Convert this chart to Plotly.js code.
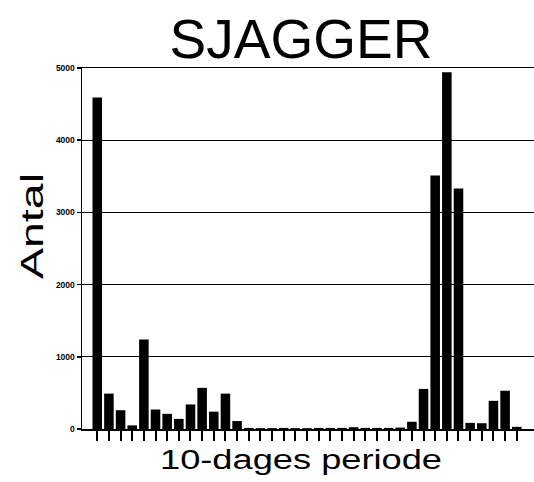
<!DOCTYPE html>
<html>
<head>
<meta charset="utf-8">
<script src="https://cdn.plot.ly/plotly-3.0.1.min.js"></script>
<style>
  html, body { margin: 0; padding: 0; background: #fff; }
  #chart { width: 534px; height: 482px; }
</style>
</head>
<body>
<div id="chart"></div>
<script>
// 10-day periods (categories)
const periods = [1,2,3,4,5,6,7,8,9,10,11,12,13,14,15,16,17,18,19,20,21,22,23,24,25,26,27,28,29,30,31,32,33,34,35,36,37];
// Antal per period
const counts = [4590, 490, 260, 50, 1240, 270, 210, 140, 340, 570, 240, 490, 110,
                15, 12, 12, 15, 12, 12, 15, 15, 15, 25, 15, 15, 15, 20,
                100, 555, 3510, 4940, 3330, 85, 80, 390, 530, 30];
const yTickVals = [0, 1000, 2000, 3000, 4000, 5000];
const yTickText = ["0", "1000", "2000", "3000", "4000", "5000"];
const chartTitle = "SJAGGER";
const xTitle = "10-dages periode";
const yTitle = "Antal";

const FONT = "Liberation Sans, Arial, Helvetica, sans-serif";

const trace = {
  type: "bar",
  x: periods,
  y: counts,
  marker: { color: "#000", line: { width: 0 } },
  hoverinfo: "x+y"
};

const layout = {
  width: 534,
  height: 482,
  margin: { l: 82, r: 0, t: 68, b: 53, pad: 0 },
  paper_bgcolor: "#fff",
  plot_bgcolor: "#fff",
  showlegend: false,
  bargap: 0.18,
  font: { family: FONT, color: "#000" },
  title: {
    text: chartTitle,
    font: { family: FONT, size: 55, color: "#000" },
    x: 301 / 534,
    xref: "container",
    xanchor: "center",
    y: 1 - 19 / 482,
    yref: "container",
    yanchor: "top"
  },
  xaxis: {
    range: [-0.31, 38.48],
    tickvals: periods,
    showticklabels: false,
    ticks: "outside",
    ticklen: 10,
    tickwidth: 2,
    tickcolor: "#000",
    showline: true,
    mirror: true,
    linecolor: "#000",
    linewidth: 1.5,
    showgrid: false,
    zeroline: false,
    fixedrange: true,
    title: {
      text: xTitle,
      font: { family: FONT, size: 27, color: "#000" },
      standoff: 10
    }
  },
  yaxis: {
    range: [0, 5000],
    tickvals: yTickVals,
    ticktext: yTickText,
    tickfont: { family: FONT, size: 8.5, color: "#000", weight: "bold" },
    ticks: "outside",
    ticklen: 4,
    tickwidth: 1.5,
    tickcolor: "#000",
    showline: true,
    linecolor: "#000",
    linewidth: 1.5,
    showgrid: true,
    gridcolor: "#000",
    gridwidth: 1.3,
    zeroline: false,
    fixedrange: true
  },
  annotations: [{
    text: yTitle,
    xref: "paper",
    yref: "paper",
    x: (31.5 - 82) / 452,
    y: (429 - 226) / 361,
    xanchor: "center",
    yanchor: "middle",
    textangle: -90,
    showarrow: false,
    font: { family: FONT, size: 32, color: "#000" }
  }]
};

Plotly.newPlot("chart", [trace], layout, { staticPlot: true, displayModeBar: false }).then(function (gd) {
  // Stretch the axis titles lengthwise, as in the scanned original
  const xt = gd.querySelector(".xtitle");
  if (xt) {
    xt.setAttribute("textLength", "282");
    xt.setAttribute("lengthAdjust", "spacingAndGlyphs");
    const cx = parseFloat(xt.getAttribute("x"));
    if (!isNaN(cx)) xt.setAttribute("x", String(cx - 7));
  }
  const at = gd.querySelector(".annotation-text");
  if (at) { at.setAttribute("textLength", "106"); at.setAttribute("lengthAdjust", "spacingAndGlyphs"); }
});
</script>
</body>
</html>
